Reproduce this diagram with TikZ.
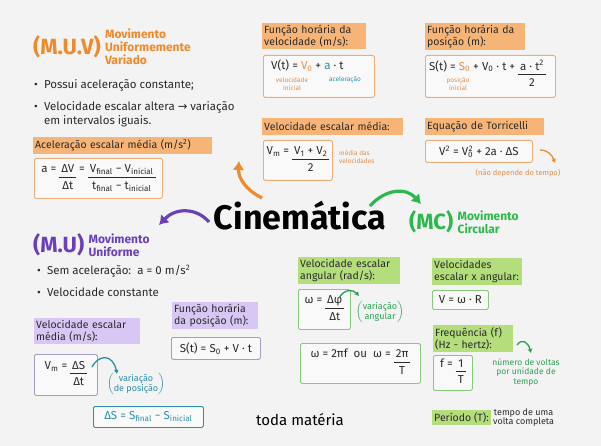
\documentclass[tikz,border=0pt]{standalone}
\usepackage{amsmath}
\usepackage{fontspec}
\setmainfont{Fira Sans}
\newfontfamily\symfont{DejaVu Sans}
\usetikzlibrary{arrows.meta,positioning}
\definecolor{cBg}{HTML}{F3F3F3}
\definecolor{cBox}{HTML}{F9F9F9}
\definecolor{cInk}{HTML}{2A2A2A}
\definecolor{cOr}{HTML}{EE8A2A}
\definecolor{cOrHd}{HTML}{F7B477}
\definecolor{cOrBd}{HTML}{EBAE78}
\definecolor{cOrTx}{HTML}{DE8E4E}
\definecolor{cPu}{HTML}{6A40B8}
\definecolor{cPuHd}{HTML}{D8C7F4}
\definecolor{cPuBd}{HTML}{A79CC2}
\definecolor{cGr}{HTML}{2DB84D}
\definecolor{cGrHd}{HTML}{B4DE7C}
\definecolor{cGrBd}{HTML}{86C97A}
\definecolor{cGrTx}{HTML}{2F9E55}
\definecolor{cTeal}{HTML}{2B8FA6}
\tikzset{
  ttl/.style={font=\fontsize{22}{24}\selectfont\bfseries, inner sep=1pt},
  sub/.style={font=\fontsize{12}{13}\selectfont\bfseries, align=left, inner sep=1pt, anchor=west},
  txt/.style={font=\fontsize{11.5}{13.5}\selectfont, text=cInk, align=left, inner sep=1pt, anchor=west},
  note/.style={font=\fontsize{6.5}{7.5}\selectfont, align=center, inner sep=1pt},
  hdr/.style={anchor=north west, inner sep=2pt, align=left, text=cInk,
              font=\fontsize{10.5}{12}\selectfont},
  orhdr/.style={hdr, fill=cOrHd},
  puhdr/.style={hdr, fill=cPuHd},
  grhdr/.style={hdr, fill=cGrHd},
  fbox/.style={anchor=north west, draw, line width=0.8pt, rounded corners=1.5pt, fill=cBox,
               inner sep=2pt, text=cInk, font=\fontsize{11.5}{13}\selectfont},
  orbox/.style={fbox, draw=cOrBd},
  pubox/.style={fbox, draw=cPuBd},
  grbox/.style={fbox, draw=cGrBd},
  bigarr/.style={line width=3.2pt, -{Latex[length=9pt,width=12pt]}},
  smarr/.style={line width=1.3pt, -{Latex[length=4pt,width=5pt]}}
}
\newcommand{\frc}[2]{\begin{tabular}[t]{@{\,}c@{\,}}#1\\\hline\rule{0pt}{12pt}#2\end{tabular}}
\newcommand{\parlbl}[2]{$\left(\vcenter{\hbox{\begin{tabular}{@{}c@{}}#1\\#2\end{tabular}}}\right)$}

\begin{document}
\begin{tikzpicture}[x=1pt,y=-1pt]
\fill[cBg] (0,0) rectangle (601,446);
\useasboundingbox (0,0) rectangle (601,446);

% M.U.V
\node[ttl, text=cOr, anchor=west] (muv) at (32,47) {(M.U.V)};
\node[sub, text=cOr, right=2pt of muv] (muvsub) {Movimento\\Uniformemente\\Variado};
\node[txt] (muvb1) at (33,85) {\textbullet\ \ Possui aceleração constante;};
\node[txt] (muvb2) at (33,114) {\textbullet\ \ Velocidade escalar altera {\symfont →} variação\\\phantom{\textbullet\ \ }em intervalos iguais.};
\node[orhdr, text width=175pt, minimum height=17pt] (hacel) at (33,137) {Aceleração escalar média (m/s\textsuperscript{2})};
\node[orbox, minimum width=128pt, minimum height=40pt] (bacel) at (34,158)
  {a = \frc{ΔV}{Δt} = \frc{V\textsubscript{final} − V\textsubscript{inicial}}{t\textsubscript{final} − t\textsubscript{inicial}}};

% funcoes horarias
\node[orhdr, text width=100pt] (hfvel) at (262,23) {Função horária da\\velocidade (m/s):};
\node[orbox, minimum width=111pt, minimum height=42pt] (bfvel) at (263,55) {};
\node[anchor=north west, inner sep=0pt, font=\fontsize{11.5}{13}\selectfont, text=cInk] (ffvel) at (271,60)
  {V(t) = \textcolor{cOrTx}{V\textsubscript{0}} + \textcolor{cTeal}{a} · t};
\node[note, text=cOrTx] (nvini) at (292,84) {velocidade\\inicial};
\node[note, text=cTeal] (nacel) at (345,80) {aceleração};

\node[orhdr, text width=96pt] (hfpos) at (425,23) {Função horária da\\posição (m):};
\node[orbox, minimum width=130pt, minimum height=42pt] (bfpos) at (425,55) {};
\node[anchor=north west, inner sep=0pt, font=\fontsize{11.5}{13}\selectfont, text=cInk] (ffpos) at (429,60)
  {S(t) = \textcolor{cOrTx}{S\textsubscript{0}} + V\textsubscript{0} · t + \frc{a · t\textsuperscript{2}}{2}};
\node[note, text=cOrTx] (npini) at (458,84) {posição\\inicial};

% velocidade media e Torricelli
\node[orhdr, text width=137pt, minimum height=17pt] (hvmed) at (262,118) {Velocidade escalar média:};
\node[orbox, minimum width=69pt, minimum height=40pt] (bvmed) at (263,140)
  {V\textsubscript{m} = \frc{V\textsubscript{1} + V\textsubscript{2}}{2}};
\node[note, text=cOrTx, anchor=west, align=left] (nvmed) at (338,157) {média das\\velocidades};

\node[orhdr, text width=115pt, minimum height=17pt] (htorr) at (425,118) {Equação de Torricelli};
\node[orbox, minimum width=107pt, minimum height=22pt] (btorr) at (425,140)
  {V\textsuperscript{2} = V\textsubscript{0}\llap{\textsuperscript{2}} + 2a · ΔS};
\node[note, text=cOrTx, font=\fontsize{7.5}{8.5}\selectfont] (ntorr) at (518,173) {(não depende do tempo)};
\coordinate (torrA) at (540,150);
\coordinate (torrB) at (555,163);
\draw[smarr, cOr] (torrA) .. controls (548,150) and (552,155) .. (torrB);

% titulo e setas
\node[font=\fontsize{34}{36}\selectfont\bfseries, text=black, inner sep=0pt] (cine) at (300,216) {Cinemática};
\coordinate (oTail) at (262,198);
\coordinate (oTip) at (239,161);
\coordinate (pTail) at (209,222);
\coordinate (pTip) at (159,225);
\coordinate (gTail) at (370,206);
\coordinate (gTip) at (421,204);
\draw[bigarr, cOr] (oTail) .. controls (246,190) and (238,178) .. (oTip);
\draw[bigarr, cPu] (pTail) .. controls (196,207) and (175,208) .. (pTip);
\draw[bigarr, cGr] (gTail) .. controls (385,189) and (406,187) .. (gTip);
\node[font=\fontsize{15}{17}\selectfont, text=black] (toda) at (300,420) {toda matéria};

% M.U
\node[ttl, text=cPu, anchor=west] (mu) at (32,245) {(M.U)};
\node[sub, text=cPu, right=2pt of mu] (musub) {Movimento\\Uniforme};
\node[txt] (mub1) at (36,271) {\textbullet\ \ Sem aceleração:\ \ a = 0 m/s\textsuperscript{2}};
\node[txt] (mub2) at (36,292) {\textbullet\ \ Velocidade constante};
\node[puhdr, text width=102pt] (hmuvm) at (34,318) {Velocidade escalar\\média (m/s):};
\node[pubox, minimum width=63pt, minimum height=41pt] (bmuvm) at (34,354)
  {V\textsubscript{m} = \frc{ΔS}{Δt}};
\node[text=cTeal, font=\fontsize{9}{10}\selectfont, inner sep=0pt] (nvpos) at (136,384)
  {\parlbl{variação}{de posição}};
\coordinate (tealA) at (92,367);
\coordinate (tealB) at (117,374);
\draw[smarr, cTeal] (tealA) .. controls (99,354) and (113,354) .. (tealB);
\node[fbox, draw=cTeal, text=cTeal, minimum width=110pt, minimum height=21pt] (bdels) at (93,406)
  {ΔS = S\textsubscript{final} − S\textsubscript{inicial}};
\node[puhdr, text width=82pt] (hmupos) at (172,302) {Função horária\\da posição (m):};
\node[pubox, minimum width=89pt, minimum height=22pt] (bmupos) at (171,337)
  {S(t) = S\textsubscript{0} + V · t};

% MC
\node[ttl, text=cGr, anchor=west] (mc) at (408,222) {(MC)};
\node[sub, text=cGr, right=2pt of mc] (mcsub) {Movimento\\Circular};
\node[grhdr, text width=98pt] (hang) at (298,257) {Velocidade escalar\\angular (rad/s):};
\node[grbox, minimum width=52pt, minimum height=40pt] (bang) at (298,289)
  {ω = \frc{Δφ}{Δt}};
\node[text=cGrTx, font=\fontsize{9}{10}\selectfont, inner sep=0pt] (nang) at (380,312)
  {\parlbl{variação}{angular}};
\coordinate (angA) at (339,298);
\coordinate (angB) at (359,296);
\draw[smarr, cGrTx] (angA) .. controls (344,289) and (353,289) .. (angB);
\node[grbox, minimum width=120pt, minimum height=40pt] (bomega) at (300,343)
  {ω = 2πf\ \ ou\ \ ω = \frc{2π}{T}};
\node[grhdr, text width=86pt] (hvsa) at (432,258) {Velocidades\\escalar x angular:};
\node[grbox, minimum width=56pt, minimum height=19pt] (bvsa) at (432,290) {V = ω · R};
\node[grhdr, text width=76pt] (hfreq) at (433,325) {Frequência (f)\\(Hz - hertz):};
\node[grbox, minimum width=39pt, minimum height=35pt] (bfreq) at (433,355) {f = \frc{1}{T}};
\coordinate (freqA) at (517,345);
\coordinate (freqB) at (531,353);
\draw[smarr, cGrTx] (freqA) .. controls (522,338) and (528,342) .. (freqB);
\node[note, text=cGrTx, font=\fontsize{8.5}{9.5}\selectfont] (nfreq) at (526,372) {número de voltas\\por unidade de\\tempo};
\node[grhdr, minimum height=13pt] (hper) at (432,410) {Período (T):};
\node[note, text=cInk, font=\fontsize{9}{9.5}\selectfont, right=1pt of hper] (nper) {tempo de uma\\volta completa};
\end{tikzpicture}
\end{document}
